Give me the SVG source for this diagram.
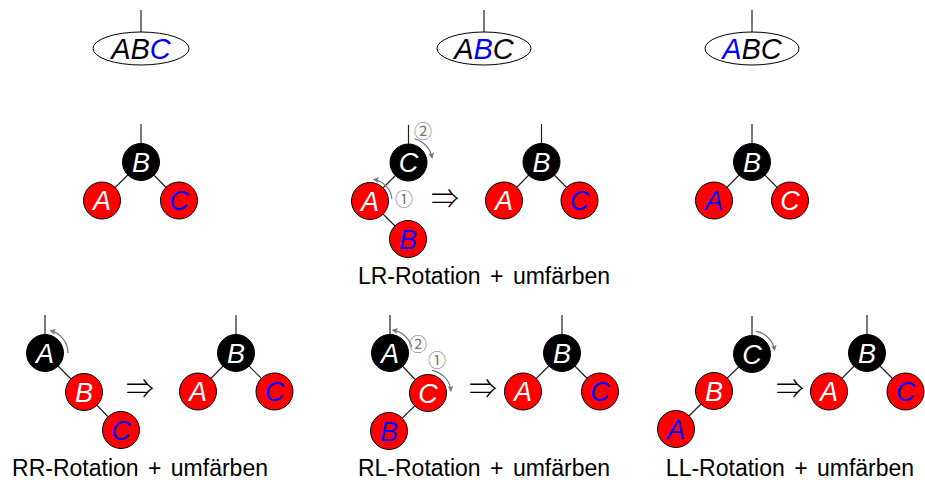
<svg xmlns="http://www.w3.org/2000/svg" width="925" height="480" viewBox="0 0 925 480">
<style>
.bg{fill:#fff}
.blk{fill:#000;stroke:#000;stroke-width:1}
.red{fill:#f00;stroke:#000;stroke-width:1}
.ell{fill:#fff;stroke:#000;stroke-width:1}
.lt{font-family:"Liberation Sans",Arial,sans-serif;font-style:italic;font-size:27px;text-anchor:middle}
.et{font-family:"Liberation Sans",Arial,sans-serif;font-style:italic;font-size:29px;text-anchor:middle}
.w{fill:#fff}
.b{fill:#00f}
.k{fill:#000}
.edge{stroke:#222;stroke-width:1.2;fill:none}
.rot{stroke:#777;stroke-width:1.2;fill:none;marker-end:url(#ah)}
.num{font-family:"Noto Sans CJK SC","Noto Sans CJK JP",sans-serif;font-size:18px;fill:#777;text-anchor:middle}
.impl{font-family:"Noto Sans CJK SC","Noto Sans CJK JP",sans-serif;font-weight:300;font-size:28px;fill:#000;text-anchor:middle}
.lab{font-family:"Liberation Sans",Arial,sans-serif;font-size:23px;fill:#000;text-anchor:middle}
</style>
<defs>
<marker id="ah" markerWidth="7" markerHeight="6" refX="5" refY="3" orient="auto" markerUnits="userSpaceOnUse">
<path d="M0,0 L6,3 L0,6 L1.5,3 z" fill="#777"/>
</marker>
</defs>
<rect class="bg" x="0" y="0" width="925" height="480"/>

<g id="connectors">
<line class="edge" x1="141" y1="10" x2="141" y2="32"/>
<line class="edge" x1="484" y1="10" x2="484" y2="32"/>
<line class="edge" x1="752" y1="10" x2="752" y2="32"/>
<line class="edge" x1="141" y1="124" x2="141" y2="162"/>
<line class="edge" x1="141" y1="162" x2="102" y2="200.5"/>
<line class="edge" x1="141" y1="162" x2="179" y2="200.5"/>
<line class="edge" x1="408.5" y1="125" x2="408.5" y2="162.5"/>
<line class="edge" x1="408.5" y1="162.5" x2="370" y2="201"/>
<line class="edge" x1="370" y1="201" x2="408" y2="239"/>
<line class="edge" x1="541.5" y1="124" x2="541.5" y2="162"/>
<line class="edge" x1="541.5" y1="162" x2="504" y2="200.5"/>
<line class="edge" x1="541.5" y1="162" x2="579.5" y2="200.5"/>
<line class="edge" x1="752" y1="124" x2="752" y2="162"/>
<line class="edge" x1="752" y1="162" x2="714" y2="200.5"/>
<line class="edge" x1="752" y1="162" x2="790" y2="200.5"/>
<line class="edge" x1="45" y1="315" x2="45" y2="353"/>
<line class="edge" x1="45" y1="353" x2="84" y2="392"/>
<line class="edge" x1="84" y1="392" x2="121" y2="430"/>
<line class="edge" x1="236" y1="315" x2="236" y2="353"/>
<line class="edge" x1="236" y1="353" x2="198" y2="391.5"/>
<line class="edge" x1="236" y1="353" x2="274.5" y2="391.5"/>
<line class="edge" x1="390" y1="315" x2="390" y2="353"/>
<line class="edge" x1="390" y1="353" x2="428" y2="393"/>
<line class="edge" x1="428" y1="393" x2="389" y2="431"/>
<line class="edge" x1="562" y1="315" x2="562" y2="353"/>
<line class="edge" x1="562" y1="353" x2="523" y2="391.5"/>
<line class="edge" x1="562" y1="353" x2="600" y2="391.5"/>
<line class="edge" x1="752" y1="316" x2="752" y2="354"/>
<line class="edge" x1="752" y1="354" x2="714" y2="391"/>
<line class="edge" x1="714" y1="391" x2="676" y2="429"/>
<line class="edge" x1="867" y1="315" x2="867" y2="353"/>
<line class="edge" x1="867" y1="353" x2="829" y2="391.5"/>
<line class="edge" x1="867" y1="353" x2="905.5" y2="391.5"/>
<path class="rot" d="M414.7,138.8 A24,24 0 0 1 432.1,157.8"/>
<path class="rot" d="M391.9,199.1 A22,22 0 0 0 373.8,179.3"/>
<path class="rot" d="M68,353 A23,23 0 0 0 50.5,330.7"/>
<path class="rot" d="M411.7,347 A23,23 0 0 0 392.8,330.2"/>
<path class="rot" d="M432,370.3 A23,23 0 0 1 450.9,391"/>
<path class="rot" d="M756,331.3 A23,23 0 0 1 774.6,350"/>
</g>

<g id="top-ABC-1">
<ellipse class="ell" cx="141" cy="48.5" rx="48" ry="16.5"/>
<text class="et" x="141" y="59"><tspan class="k">AB</tspan><tspan class="b">C</tspan></text>
</g>
<g id="top-ABC-2">
<ellipse class="ell" cx="484" cy="48.5" rx="47" ry="16.5"/>
<text class="et" x="484" y="59"><tspan class="k">A</tspan><tspan class="b">B</tspan><tspan class="k">C</tspan></text>
</g>
<g id="top-ABC-3">
<ellipse class="ell" cx="752" cy="48.5" rx="47" ry="16.5"/>
<text class="et" x="752" y="59"><tspan class="b">A</tspan><tspan class="k">BC</tspan></text>
</g>

<g id="r2t1-B"><circle class="blk" cx="141" cy="162" r="18.5"/><text class="lt w" x="141" y="171.5">B</text></g>
<g id="r2t1-A"><circle class="red" cx="102" cy="200.5" r="18.5"/><text class="lt w" x="102" y="210">A</text></g>
<g id="r2t1-C"><circle class="red" cx="179" cy="200.5" r="18.5"/><text class="lt b" x="179" y="210">C</text></g>

<g id="lr-C"><circle class="blk" cx="408.5" cy="162.5" r="18.5"/><text class="lt w" x="408.5" y="172">C</text></g>
<g id="lr-A"><circle class="red" cx="370" cy="201" r="18.5"/><text class="lt w" x="370" y="210.5">A</text></g>
<g id="lr-B"><circle class="red" cx="408" cy="239" r="18.5"/><text class="lt b" x="408" y="248.5">B</text></g>
<g id="lr-marks"><text class="num" x="423" y="138">②</text><text class="num" x="404" y="206">①</text><text class="impl" x="445" y="209">⇒</text></g>

<g id="r2t2-B"><circle class="blk" cx="541.5" cy="162" r="18.5"/><text class="lt w" x="541.5" y="171.5">B</text></g>
<g id="r2t2-A"><circle class="red" cx="504" cy="200.5" r="18.5"/><text class="lt w" x="504" y="210">A</text></g>
<g id="r2t2-C"><circle class="red" cx="579.5" cy="200.5" r="18.5"/><text class="lt b" x="579.5" y="210">C</text></g>
<g id="lr-label"><text class="lab" x="484" y="284">LR-Rotation <tspan dx="3">+</tspan><tspan dx="3"> umfärben</tspan></text></g>

<g id="r2t3-B"><circle class="blk" cx="752" cy="162" r="18.5"/><text class="lt w" x="752" y="171.5">B</text></g>
<g id="r2t3-A"><circle class="red" cx="714" cy="200.5" r="18.5"/><text class="lt b" x="714" y="210">A</text></g>
<g id="r2t3-C"><circle class="red" cx="790" cy="200.5" r="18.5"/><text class="lt w" x="790" y="210">C</text></g>

<g id="rr-A"><circle class="blk" cx="45" cy="353" r="18.5"/><text class="lt w" x="45" y="362.5">A</text></g>
<g id="rr-B"><circle class="red" cx="84" cy="392" r="18.5"/><text class="lt w" x="84" y="401.5">B</text></g>
<g id="rr-C"><circle class="red" cx="121" cy="430" r="18.5"/><text class="lt b" x="121" y="439.5">C</text></g>
<g id="rr-impl"><text class="impl" x="140" y="399">⇒</text></g>
<g id="rr2-B"><circle class="blk" cx="236" cy="353" r="18.5"/><text class="lt w" x="236" y="362.5">B</text></g>
<g id="rr2-A"><circle class="red" cx="198" cy="391.5" r="18.5"/><text class="lt w" x="198" y="401">A</text></g>
<g id="rr2-C"><circle class="red" cx="274.5" cy="391.5" r="18.5"/><text class="lt b" x="274.5" y="401">C</text></g>
<g id="rr-label"><text class="lab" x="140" y="476">RR-Rotation <tspan dx="3">+</tspan><tspan dx="3"> umfärben</tspan></text></g>

<g id="rl-A"><circle class="blk" cx="390" cy="353" r="18.5"/><text class="lt w" x="390" y="362.5">A</text></g>
<g id="rl-C"><circle class="red" cx="428" cy="393" r="18.5"/><text class="lt w" x="428" y="402.5">C</text></g>
<g id="rl-B"><circle class="red" cx="389" cy="431" r="18.5"/><text class="lt b" x="389" y="440.5">B</text></g>
<g id="rl-marks"><text class="num" x="418" y="351">②</text><text class="num" x="437" y="367">①</text><text class="impl" x="483" y="399">⇒</text></g>
<g id="rl2-B"><circle class="blk" cx="562" cy="353" r="18.5"/><text class="lt w" x="562" y="362.5">B</text></g>
<g id="rl2-A"><circle class="red" cx="523" cy="391.5" r="18.5"/><text class="lt w" x="523" y="401">A</text></g>
<g id="rl2-C"><circle class="red" cx="600" cy="391.5" r="18.5"/><text class="lt b" x="600" y="401">C</text></g>
<g id="rl-label"><text class="lab" x="484" y="476">RL-Rotation <tspan dx="3">+</tspan><tspan dx="3"> umfärben</tspan></text></g>

<g id="ll-C"><circle class="blk" cx="752" cy="354" r="18.5"/><text class="lt w" x="752" y="363.5">C</text></g>
<g id="ll-B"><circle class="red" cx="714" cy="391" r="18.5"/><text class="lt w" x="714" y="400.5">B</text></g>
<g id="ll-A"><circle class="red" cx="676" cy="429" r="18.5"/><text class="lt b" x="676" y="438.5">A</text></g>
<g id="ll-impl"><text class="impl" x="790" y="399">⇒</text></g>
<g id="ll2-B"><circle class="blk" cx="867" cy="353" r="18.5"/><text class="lt w" x="867" y="362.5">B</text></g>
<g id="ll2-A"><circle class="red" cx="829" cy="391.5" r="18.5"/><text class="lt w" x="829" y="401">A</text></g>
<g id="ll2-C"><circle class="red" cx="905.5" cy="391.5" r="18.5"/><text class="lt b" x="905.5" y="401">C</text></g>
<g id="ll-label"><text class="lab" x="790" y="476">LL-Rotation <tspan dx="3">+</tspan><tspan dx="3"> umfärben</tspan></text></g>
</svg>
